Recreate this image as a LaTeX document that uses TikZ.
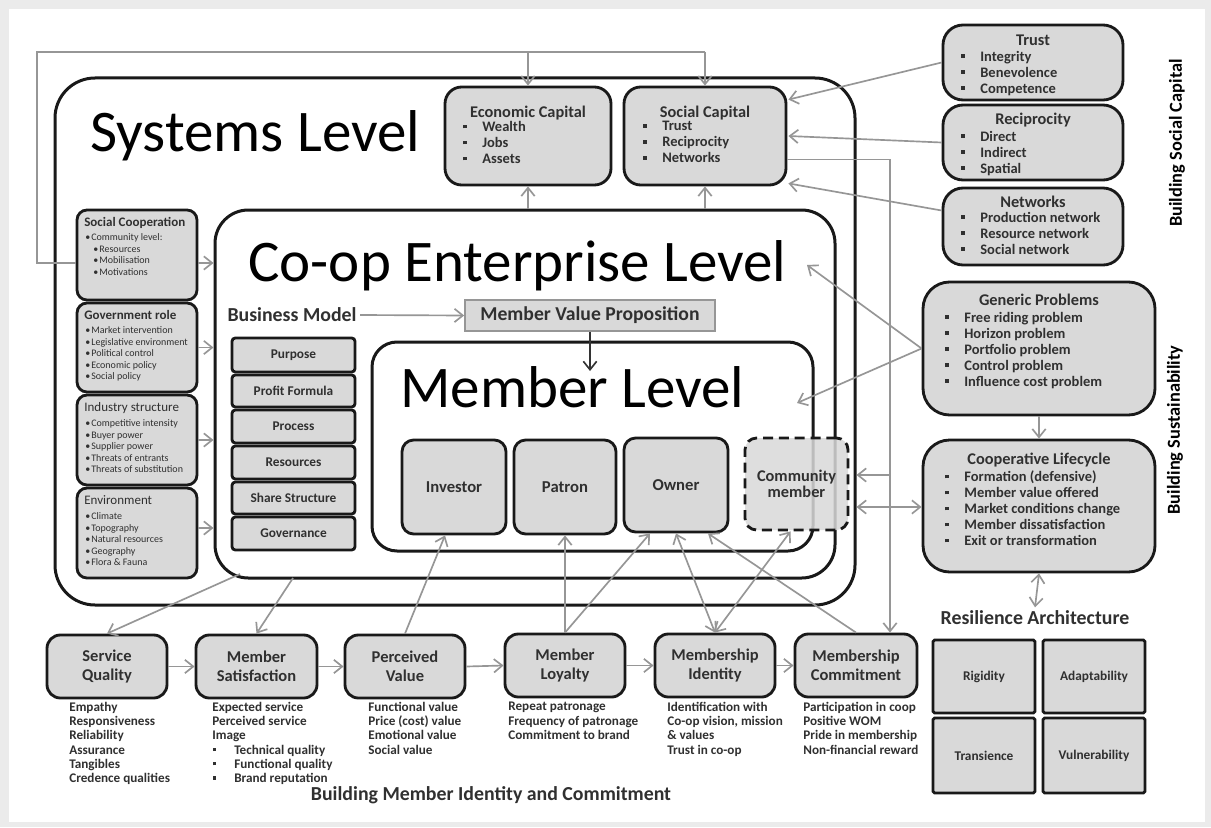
\documentclass[tikz,border=0pt]{standalone}
\usepackage{fontspec}
\setmainfont{Carlito}
\usetikzlibrary{arrows.meta,fit,calc}
\newdimen\pxu \pxu=0.6pt
\definecolor{boxfill}{RGB}{217,217,217}
\definecolor{conn}{RGB}{150,150,150}
\definecolor{txt}{RGB}{48,48,48}
\newcommand\bul{\rule[0.22em]{0.24em}{0.24em}}
\newcommand\itm[1]{\makebox[20\pxu][l]{\hspace{1\pxu}\bul}#1}
\newcommand\sitm[1]{\makebox[6\pxu][l]{\textbullet}#1}
% box (style, name, text style, text)
\newcommand\tbox[4]{\node[#1] (#2) {};\node[#3] (#2t) at (#2.center) {#4};}
\tikzset{
  gbox/.style={draw=black!90, line width=1.7pt, fill=boxfill, rounded corners=#1, inner sep=0pt},
  gbox/.default=8pt,
  lvl/.style={draw=black!90, line width=1.8pt, fill=white, rounded corners=#1, inner sep=0pt},
  garr/.style={draw=conn, line width=1pt, -{Straight Barb[length=5pt,width=8pt]}},
  garrb/.style={draw=conn, line width=1pt, {Straight Barb[length=5pt,width=8pt]}-{Straight Barb[length=5pt,width=8pt]}},
  darr/.style={draw=black!80, line width=1pt, -{Straight Barb[length=5pt,width=8pt]}},
  gline/.style={draw=conn, line width=1pt},
  ttl/.style={font=\fontsize{9.8}{11}\selectfont\bfseries, text=txt, inner sep=0pt},
  lst/.style={font=\fontsize{8.7}{9.6}\selectfont\bfseries, text=txt, align=left, inner sep=0pt, anchor=north west},
  big/.style={font=\fontsize{35.4}{40}\selectfont, inner sep=0pt, anchor=base west},
  ltl/.style={anchor=west, font=\fontsize{7.8}{9}\selectfont, text=txt, inner sep=0pt},
  slst/.style={font=\fontsize{6}{6.9}\selectfont, text=txt, align=left, inner sep=0pt, anchor=north west},
  bmt/.style={font=\fontsize{8}{9}\selectfont\bfseries, text=txt, inner sep=0pt},
  mbt/.style={font=\fontsize{10}{9.6}\selectfont\bfseries, text=txt, align=center, inner sep=0pt},
  bbt/.style={font=\fontsize{9.9}{11.4}\selectfont\bfseries, text=txt, align=center, inner sep=0pt},
  dsc/.style={font=\fontsize{7.9}{8.5}\selectfont\bfseries, text=txt, align=left, inner sep=0pt, anchor=north west},
  hdr/.style={font=\fontsize{11.9}{14}\selectfont\bfseries, text=txt, inner sep=2pt},
  side/.style={rotate=90, font=\fontsize{11}{13}\selectfont\bfseries, inner sep=0pt},
}
\begin{document}
\begin{tikzpicture}[x=0.6pt,y=-0.6pt]
\useasboundingbox (0,0) rectangle (1211,827);
\fill[black!8] (0,0) rectangle (1211,827);
\fill[white] (9,9) rectangle (1205,822);

% levels
\node[lvl=24pt, fit={(55,78)(855,605)}] (sys) {};
\node[lvl=20pt, fit={(215,210)(835,578)}] (ent) {};
\node[lvl=15pt, fit={(372,342)(813,551)}] (mem) {};
\node[big] (systl) at (90,151) {Systems Level};
\node[big] (enttl) at (248,281) {Co-op Enterprise Level};
\node[big] (memtl) at (400,407) {Member Level};

% capitals
\node[gbox=10pt, fit={(445,87)(611,185)}] (ecap) {};
\node[ttl] (ecapT) at (528,113) {Economic Capital};
\node[lst] (ecapL) at (462,121) {\itm{Wealth}\\\itm{Jobs}\\\itm{Assets}};
\node[gbox=10pt, fit={(624,87)(786,185)}] (scap) {};
\node[ttl] (scapT) at (705,113) {Social Capital};
\node[lst] (scapL) at (642,121) {\itm{Trust}\\\itm{Reciprocity}\\\itm{Networks}};

% social capital builders
\node[gbox=12pt, fit={(943,25)(1123,100)}] (trust) {};
\node[ttl] (trustT) at (1033,40) {Trust};
\node[lst] (trustL) at (960,50.5) {\itm{Integrity}\\\itm{Benevolence}\\\itm{Competence}};
\node[gbox=12pt, fit={(943,105)(1123,180)}] (recip) {};
\node[ttl] (recipT) at (1033,120) {Reciprocity};
\node[lst] (recipL) at (960,130.5) {\itm{Direct}\\\itm{Indirect}\\\itm{Spatial}};
\node[gbox=12pt, fit={(943,188)(1123,265)}] (netw) {};
\node[ttl] (netwT) at (1033,202) {Networks};
\node[lst] (netwL) at (960,211.5) {\itm{Production network}\\\itm{Resource network}\\\itm{Social network}};
\node[side] (bsc) at (1177,143) {Building Social Capital};

% sustainability
\node[gbox=16pt, fit={(923,282)(1155,415)}] (gen) {};
\node[ttl] (genT) at (1039,300) {Generic Problems};
\node[lst] (genL) at (944,311.5) {\itm{Free riding problem}\\\itm{Horizon problem}\\\itm{Portfolio problem}\\\itm{Control problem}\\\itm{Influence cost problem}};
\node[gbox=16pt, fit={(923,440)(1155,572)}] (life) {};
\node[ttl] (lifeT) at (1039,460) {Cooperative Lifecycle};
\node[lst] (lifeL) at (944,470.5) {\itm{Formation (defensive)}\\\itm{Member value offered}\\\itm{Market conditions change}\\\itm{Member dissatisfaction}\\\itm{Exit or transformation}};
\node[side] (bsus) at (1175,430) {Building Sustainability};

% resilience
\node[hdr] (resT) at (1035,618) {Resilience Architecture};
\tbox{gbox=1pt, fit={(933,640)(1035,713)}}{rig}{bmt}{Rigidity}
\tbox{gbox=1pt, fit={(1043,640)(1145,713)}}{ada}{bmt}{Adaptability}
\tbox{gbox=1pt, fit={(933,718)(1035,793)}}{tra}{bmt}{Transience}
\tbox{gbox=1pt, fit={(1043,718)(1145,793)}}{vul}{bmt}{Vulnerability}

% left boxes
\node[gbox=6pt, fit={(77,210)(197,300)}] (socco) {};
\node[ltl, font=\fontsize{7.8}{9}\selectfont\bfseries] (soccoT) at (84,223) {Social Cooperation};
\node[slst] (soccoL) at (85,233.5) {\sitm{Community level:}\\\hspace*{8\pxu}\sitm{Resources}\\\hspace*{8\pxu}\sitm{Mobilisation}\\\hspace*{8\pxu}\sitm{Motivations}};
\node[gbox=6pt, fit={(77,303)(197,392)}] (gov) {};
\node[ltl, font=\fontsize{7.8}{9}\selectfont\bfseries] (govT) at (84,315) {Government role};
\node[slst] (govL) at (85,326.5) {\sitm{Market intervention}\\\sitm{Legislative environment}\\\sitm{Political control}\\\sitm{Economic policy}\\\sitm{Social policy}};
\node[gbox=6pt, fit={(77,395)(197,485)}] (ind) {};
\node[ltl] (indT) at (84,408) {Industry structure};
\node[slst] (indL) at (85,419.5) {\sitm{Competitive intensity}\\\sitm{Buyer power}\\\sitm{Supplier power}\\\sitm{Threats of entrants}\\\sitm{Threats of substitution}};
\node[gbox=6pt, fit={(77,488)(197,578)}] (env) {};
\node[ltl] (envT) at (84,500) {Environment};
\node[slst] (envL) at (85,512.5) {\sitm{Climate}\\\sitm{Topography}\\\sitm{Natural resources}\\\sitm{Geography}\\\sitm{Flora \& Fauna}};

% business model
\node[hdr] (bm) at (292,315) {Business Model};
\tbox{draw=conn, line width=1pt, fill=boxfill, inner sep=0pt, fit={(465,300)(715,331)}}{mvp}{bmt, font=\fontsize{11.8}{14}\selectfont\bfseries}{Member Value Proposition}
\tbox{gbox=2pt, fit={(232,338)(355,372)}}{bm1}{bmt}{Purpose}
\tbox{gbox=2pt, fit={(232,375)(355,407)}}{bm2}{bmt}{Profit Formula}
\tbox{gbox=2pt, fit={(232,410)(355,443)}}{bm3}{bmt}{Process}
\tbox{gbox=2pt, fit={(232,446)(355,479)}}{bm4}{bmt}{Resources}
\tbox{gbox=2pt, fit={(232,482)(355,514)}}{bm5}{bmt}{Share Structure}
\tbox{gbox=2pt, fit={(232,517)(355,550)}}{bm6}{bmt}{Governance}

% member boxes
\tbox{gbox=7pt, fit={(402,440)(506,534)}}{inv}{mbt}{Investor}
\tbox{gbox=7pt, fit={(514,440)(616,534)}}{pat}{mbt}{Patron}
\tbox{gbox=7pt, fit={(624,438)(728,532)}}{own}{mbt}{Owner}
\tbox{gbox=7pt, dash pattern=on 6pt off 3.5pt, fill opacity=0.85, fit={(745,438)(848,530)}}{comm}{mbt, font=\fontsize{9.8}{9.6}\selectfont\bfseries}{Community\\member}

% bottom row
\tbox{gbox=8pt, fit={(47,635)(167,698)}}{sq}{bbt}{Service\\Quality}
\tbox{gbox=8pt, fit={(196,635)(317,698)}}{ms}{bbt}{Member\\Satisfaction}
\tbox{gbox=8pt, fit={(345,635)(465,698)}}{pv}{bbt}{Perceived\\Value}
\tbox{gbox=8pt, fit={(505,634)(625,697)}}{ml}{bbt}{Member\\Loyalty}
\tbox{gbox=8pt, fit={(655,634)(775,697)}}{mi}{bbt}{Membership\\Identity}
\tbox{gbox=8pt, fit={(795,634)(917,697)}}{mc}{bbt}{Membership\\Commitment}

\node[dsc] (sqD) at (69,702) {Empathy\\Responsiveness\\Reliability\\Assurance\\Tangibles\\Credence qualities};
\node[dsc] (msD) at (212,702) {Expected service\\Perceived service\\Image\\\makebox[22\pxu][l]{\hspace{1\pxu}\bul}Technical quality\\\makebox[22\pxu][l]{\hspace{1\pxu}\bul}Functional quality\\\makebox[22\pxu][l]{\hspace{1\pxu}\bul}Brand reputation};
\node[dsc] (pvD) at (368,702) {Functional value\\Price (cost) value\\Emotional value\\Social value};
\node[dsc] (mlD) at (508,702) {Repeat patronage\\Frequency of patronage\\Commitment to brand};
\node[dsc] (miD) at (667,702) {Identification with\\Co-op vision, mission\\\& values\\Trust in co-op};
\node[dsc] (mcD) at (803,702) {Participation in coop\\Positive WOM\\Pride in membership\\Non-financial reward};
\node[hdr] (bmic) at (491,795) {Building Member Identity and Commitment};

% ---- connectors
\coordinate (lpA) at (37,263);
\coordinate (lpB) at (37,52);
\coordinate (lpC) at (705,52);
\coordinate (lpD) at (528,52);
\draw[gline] (socco.west |- lpA) -- (lpA) -- (lpB) -- (lpC);
\draw[garr] (lpC) -- (scap.north);
\draw[garr] (lpD) -- (ecap.north);
\draw[garr] (socco.east |- lpA) -- (ent.west |- lpA);
\draw[garr] (gov.east) -- (gov.east -| ent.west);
\draw[garr] (ind.east) -- (ind.east -| ent.west);
\draw[garr] ($(env.east)+(0,-5)$) -- ($(env.east -| ent.west)+(0,-5)$);

\draw[garr] (ent.north -| ecap.south) -- (ecap.south);
\draw[garr] (ent.north -| scap.south) -- (scap.south);

\draw[garr] (trust.west) -- ($(scap.north east)+(1,14)$);
\draw[garr] (recip.west) -- ($(scap.east)+(1,0)$);
\draw[garr] ($(netw.west)+(0,-16)$) -- ($(scap.south east)+(1,-3)$);

\coordinate (scR) at ($(scap.south east)+(0,-27)$);
\coordinate (vl) at (890,475);
\coordinate (cl) at (890,507);
\draw[garr] (scR) -| (mc.north -| vl);
\draw[garr] (vl) -- (vl -| sys.east);
\draw[garrb] (cl -| sys.east) -- (cl -| life.west);

\coordinate (entA) at (807,265);
\coordinate (memA) at (797,403);
\draw[garr] (gen.west) -- (entA);
\draw[garr] (gen.west) -- (memA);
\draw[garr] (gen.south) -- (life.north);
\draw[garrb] (life.south) -- (resT.north);

\coordinate (mvpA) at (590,371);
\draw[garr] (bm.east) -- (mvp.west);
\draw[darr] (mvp.south) -- (mvpA);

\coordinate (eb1) at (240,574);
\coordinate (eb2) at (293,578);
\draw[garr] (eb1) -- (sq.north);
\draw[garr] (eb2) -- (ms.north);

\draw[garr] (pv.north) -- ($(inv.south)+(-9,0)$);
\draw[garr] (ml.north) -- (pat.south);
\draw[garr] (ml.north) -- ($(own.south)+(-26,0)$);
\draw[garrb] (mi.north) -- (own.south);
\draw[garrb] (mi.north) -- ($(comm.south)+(-6,0)$);
\draw[garr] (mc.north) -- ($(own.south)+(32,0)$);

\draw[garr] (sq.east) -- (ms.west);
\draw[garr] (ms.east) -- (pv.west);
\draw[garr] (pv.east) -- (ml.west);
\draw[garr] (ml.east) -- (mi.west);
\draw[garr] (mi.east) -- (mc.west);
\end{tikzpicture}
\end{document}
